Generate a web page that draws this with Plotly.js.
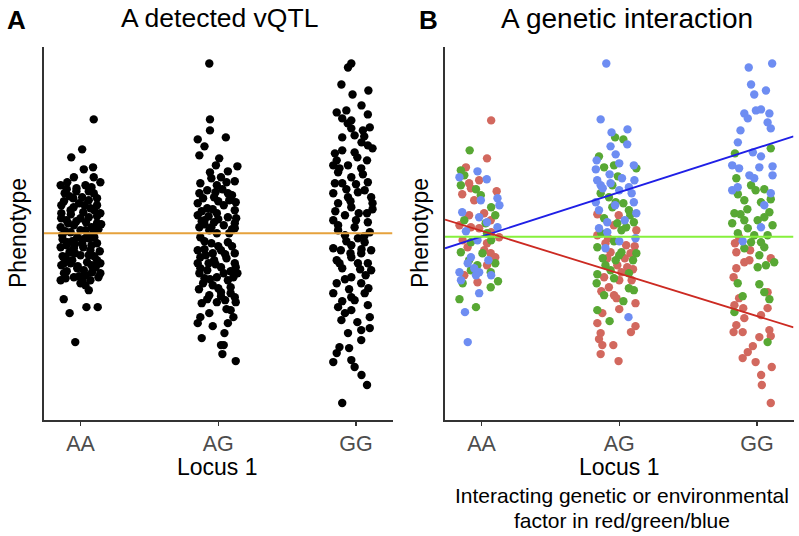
<!DOCTYPE html>
<html>
<head>
<meta charset="utf-8">
<script src="https://cdn.plot.ly/plotly-3.0.1.min.js"></script>
<style>html,body{margin:0;padding:0;background:#fff;}#chart{width:799px;height:536px;}</style>
</head>
<body>
<div id="chart"></div>
<script>
// ---------- data ----------
const categories = ['AA', 'AG', 'GG'];
const xRange = [0.735, 3.265];

// Panel A: [jittered locus position, phenotype]
const aaPoints = [[1.096,11.4],[1.012,8.4],[0.933,7.6],[1.091,6.6],[1.024,6.4],[0.952,5.6],[0.856,4.8],[0.904,5.1],[1.096,5.6],[1.144,5.1],
[0.971,4.5],[1.036,4.8],[0.885,4.0],[1.096,4.0],[1.012,3.6],[0.947,3.5],[1.12,2.8],[0.861,2.8],[0.928,2.3],[1.072,2.5],
[1.144,2.0],[0.861,2.0],[0.899,1.3],[1.0,1.5],[1.06,1.6],[1.12,1.0],[0.952,0.8],[1.036,0.3],[0.856,0.6],[0.928,0.1],
[1.096,0.1],[0.868,-0.2],[0.976,-0.4],[1.06,-0.5],[0.904,-0.9],[1.012,-1.0],[1.12,-1.0],[0.856,-1.4],[0.952,-1.5],[1.072,-1.7],
[0.892,-2.4],[1.0,-2.2],[1.12,-2.7],[1.048,-2.9],[0.928,-3.0],[0.861,-3.2],[0.976,-3.5],[1.144,-3.0],[1.024,-3.7],[1.084,-3.9],
[1.144,-4.0],[0.88,-4.0],[0.952,-4.4],[1.012,-4.7],[1.072,-4.7],[0.856,-4.7],[0.892,-4.5],[1.036,-5.2],[1.06,-5.7],[1.0,-5.0],
[0.878,-6.6],[0.921,-8.0],[1.043,-7.4],[1.125,-7.4],[0.962,-10.9],
[0.88,3.2],[0.99,3.0],[1.06,3.3],[0.91,1.0],[1.04,1.1],[1.13,0.4],[0.87,-0.6],[0.94,-0.8],[1.08,-1.2],[1.0,0.3],
[0.96,-2.0],[1.1,-2.3],[0.87,-2.3],[1.05,-0.2],[0.93,1.9],[1.02,2.1],[1.12,1.7],[0.98,-3.3],[1.08,-3.2],[0.9,-3.8],
[1.13,-4.4],[1.04,-4.2],[0.92,-1.9],[1.14,-1.8],[0.97,4.2],[1.06,4.2],[0.9,4.4],[1.12,3.5],[0.86,1.5],[1.15,0.9],
[0.95,2.6],[1.03,2.8],[0.89,0.2],[1.08,0.6],[0.96,-1.1],[1.1,-0.4],[0.9,-1.2],[1.02,-1.4],[0.88,-3.0],[1.06,-2.2],
[0.94,-2.7],[0.99,-4.3],[1.11,-3.4],[1.02,-0.6],[0.92,3.7],[1.08,4.6],[0.97,1.2],[1.1,2.3]];

const agPoints = [[1.935,17.0],[1.94,11.4],[1.94,10.3],[2.055,9.6],[1.851,9.4],[1.9,8.7],[1.863,7.8],[2.007,7.5],[1.983,6.8],[2.139,6.7],
[2.07,6.2],[1.94,6.1],[2.02,5.6],[2.12,5.2],[1.87,5.0],[1.99,4.8],[1.92,4.3],[1.863,4.0],[2.07,4.0],[1.97,3.6],
[2.127,3.1],[1.851,3.0],[2.04,2.8],[1.92,2.5],[2.12,2.3],[1.99,2.0],[1.851,1.8],[2.07,1.6],[1.9,1.3],[1.97,1.1],
[2.12,1.0],[1.863,0.6],[2.04,0.8],[1.935,0.3],[2.12,0.5],[1.99,0.0],[1.87,-0.4],[2.07,-0.9],[1.95,-1.0],[1.851,-1.7],
[2.02,-1.7],[2.12,-2.0],[1.91,-2.2],[1.97,-2.7],[2.06,-2.5],[1.851,-3.0],[2.127,-3.4],[2.02,-3.4],[1.92,-3.7],[2.139,-4.0],
[1.863,-4.0],[1.99,-4.4],[2.07,-4.7],[1.89,-5.0],[1.96,-5.2],[2.09,-5.4],[2.02,-5.9],[2.12,-6.4],[1.935,-6.2],[1.88,-7.0],
[1.99,-6.9],[2.05,-6.7],[2.127,-6.9],[2.06,-7.6],[2.09,-7.7],[1.935,-8.0],[1.87,-8.4],[1.851,-9.0],[1.96,-9.3],[2.11,-8.4],
[2.07,-9.0],[2.045,-10.0],[1.88,-10.5],[2.02,-11.2],[2.04,-11.2],[2.03,-12.1],[2.127,-12.8],
[1.88,2.2],[2.0,3.2],[2.1,3.8],[1.9,-0.8],[2.08,0.0],[1.96,-2.0],[2.1,-1.3],[1.87,-2.4],[2.04,-4.0],[1.94,-4.6],
[2.11,-4.4],[1.86,-5.6],[2.0,1.4],[1.93,1.7],[2.13,1.5],[1.98,-3.1],[2.03,4.4],[1.89,3.5],[2.12,-3.0],[2.02,-6.3],
[1.92,-6.6],[2.06,5.1],[1.95,5.5],[1.9,0.9],
[1.96,2.4],[2.08,3.3],[1.9,-1.6],[2.05,-2.1],[1.93,-3.0],[2.09,-3.8],[1.87,-3.5],[2.0,-5.5],[1.95,0.6],[2.1,0.4],
[2.0,-1.3],[1.88,1.2],[1.98,4.1],[2.09,-6.0],[1.9,-4.5]];

const ggPoints = [[2.966,17.0],[2.942,16.6],[2.894,14.9],[2.975,13.9],[3.09,14.3],[2.86,12.1],[2.93,12.3],[2.9,11.5],[2.966,11.3],[3.086,11.9],
[3.1,10.6],[2.966,10.5],[3.05,10.3],[3.04,9.1],[3.12,8.5],[2.847,8.0],[2.9,8.3],[2.99,8.1],[3.086,8.8],[3.01,7.6],
[2.835,6.8],[2.942,6.8],[3.038,6.5],[2.87,6.1],[2.966,5.6],[3.086,5.1],[2.847,5.0],[2.9,5.0],[3.014,4.1],[3.063,4.3],
[2.835,4.0],[2.942,3.6],[3.11,3.6],[2.87,3.0],[2.966,2.6],[2.92,1.8],[2.835,1.3],[3.086,1.1],[2.99,0.6],[2.87,0.8],
[3.1,0.1],[2.92,-0.2],[3.014,-0.5],[3.063,-0.9],[2.835,-1.5],[2.966,-1.2],[3.11,-1.7],[2.89,-1.7],[3.038,-2.0],[2.86,-2.7],
[2.966,-2.4],[3.086,-3.0],[3.014,-3.0],[2.9,-3.5],[3.11,-3.7],[2.966,-4.4],[3.038,-5.0],[2.835,-6.0],[2.966,-6.4],[3.063,-6.0],
[2.99,-6.7],[3.086,-7.2],[2.87,-7.4],[2.92,-8.0],[2.966,-7.7],[3.1,-8.4],[2.894,-8.7],[3.038,-9.7],[3.1,-9.5],[2.942,-10.0],
[3.038,-10.7],[2.88,-11.4],[2.95,-11.5],[2.86,-12.0],[2.835,-12.9],[2.966,-12.7],[2.99,-13.4],[3.04,-14.2],[3.08,-15.2],[2.9,-17.0],
[2.9,9.6],[2.99,9.8],[3.08,7.3],[2.86,7.3],[3.0,4.9],[2.93,4.4],[3.12,2.4],[3.02,2.0],[2.85,2.2],[3.06,-0.3],
[2.93,-0.8],[3.0,1.3],[2.88,-3.0],[3.09,-5.5],[2.86,-5.0],[3.01,-8.9],[2.96,-2.0],[3.12,3.0],[2.94,11.0],[3.04,12.8],
[2.88,6.5],[3.05,5.9],[2.96,3.2],[3.08,2.0],[2.87,0.3],[3.04,-1.6],[2.92,-4.6],[3.07,-4.2],[2.95,-5.6],[3.03,-3.6],
[2.9,-6.8],[3.06,9.7]];

const vqtlMean = [0, 0];   // phenotype mean at AA and GG

// Panel B: [jittered locus position, phenotype] by interacting factor level
const redPoints = [[1.07,11.3],[1.04,7.5],[0.887,6.6],[0.983,5.3],[0.91,5.0],[0.923,4.5],[1.11,4.2],[0.86,3.9],[0.947,3.3],[1.019,2.0],
[0.91,1.8],[1.067,1.3],[0.84,0.8],[0.923,0.6],[0.983,0.5],[1.07,0.1],[1.128,-0.4],[0.863,-0.7],[1.04,-1.0],[0.899,-1.4],
[1.02,-1.7],[1.067,-2.0],[1.1,-2.4],[1.04,-3.2],[0.875,-4.2],[0.971,-4.9],
[1.841,1.9],[1.996,1.8],[2.124,0.3],[1.841,-0.2],[1.9,-1.0],[2.112,-1.3],[1.937,-1.9],[2.082,-2.0],[1.913,-2.5],[2.04,-2.5],
[1.986,-3.2],[2.058,-3.4],[2.016,-3.9],[1.89,-4.4],[2.0,-4.7],[2.09,-4.7],[1.925,-5.4],[1.962,-6.2],[1.98,-6.5],[2.118,-7.0],
[2.0,-7.6],[1.877,-8.0],[1.841,-9.0],[2.118,-9.3],[2.085,-9.9],[1.865,-10.0],[1.853,-10.6],[1.877,-11.2],[1.957,-11.2],[1.865,-12.1],
[1.995,-12.8],[1.96,0.8],[2.05,-1.2],[2.1,-3.6],[1.87,-5.8],[1.92,-0.5],
[2.87,-0.4],[2.84,-1.0],[2.85,-1.9],[2.945,-2.7],[3.1,-2.5],[2.908,-2.9],[2.85,-3.5],[2.83,-4.4],[3.077,-5.9],[2.87,-6.5],
[2.836,-7.2],[2.9,-7.5],[3.029,-8.2],[3.077,-7.5],[2.908,-8.5],[2.85,-9.2],[2.83,-9.9],[2.896,-9.9],[3.09,-9.7],[3.017,-10.4],
[3.1,-10.3],[2.97,-11.3],[2.933,-11.9],[2.896,-12.5],[2.99,-12.9],[3.107,-13.4],[3.03,-14.2],[3.035,-15.2],[3.1,-17.0],[2.95,-1.7]];

const greenPoints = [[0.914,8.3],[0.85,6.3],[0.875,5.8],[0.85,4.8],[0.96,4.4],[0.995,3.8],[1.07,2.6],[1.1,1.8],[0.875,1.3],[1.03,1.0],
[1.04,0.0],[0.923,-0.9],[1.07,-0.7],[0.85,-1.9],[1.007,-2.0],[0.91,-2.7],[1.1,-3.0],[0.97,-3.2],[0.923,-3.7],[1.067,-3.9],
[1.12,-4.8],[0.863,-5.0],[1.067,-5.4],[0.84,-6.6],[0.96,-7.4],
[1.97,9.6],[2.03,9.4],[1.853,7.7],[1.89,6.6],[2.124,6.5],[1.962,6.8],[1.99,5.7],[1.865,4.0],[1.925,3.6],[1.974,3.1],
[2.03,3.0],[1.95,2.6],[2.07,2.3],[1.89,1.5],[1.986,1.0],[2.106,1.1],[2.016,0.3],[1.962,-0.8],[1.841,-1.4],[2.016,-1.9],
[2.124,-2.0],[1.974,-2.7],[2.1,-2.7],[1.9,-3.2],[1.937,-3.7],[1.841,-4.1],[2.07,-4.0],[1.962,-4.5],[1.836,-5.0],[2.07,-5.5],
[2.106,-5.7],[1.89,-6.2],[2.03,-6.8],[1.841,-7.7],[1.93,-8.8],[1.95,4.8],[2.08,1.8],[1.87,0.0],[1.88,-2.5],[2.0,-2.2],[2.05,0.6],
[3.1,8.5],[2.84,8.0],[2.85,5.5],[2.957,4.8],[2.861,3.9],[2.99,4.3],[3.053,4.4],[2.908,3.3],[3.029,3.1],[2.836,2.0],
[3.09,2.1],[3.053,1.6],[2.908,1.3],[2.82,1.0],[3.005,1.3],[3.113,0.8],[2.933,0.5],[2.861,0.0],[3.077,-0.2],[2.957,-0.9],
[3.029,-0.9],[2.908,-1.5],[3.053,-1.4],[3.017,-2.2],[3.125,-2.9],[3.005,-3.4],[3.065,-3.2],[2.86,-5.0],[3.017,-5.1],[3.053,-5.9],
[3.09,-6.6],[2.896,-6.3],[2.836,-7.9],[3.077,-10.9],[2.93,2.4],[3.1,3.4],[2.98,-0.2],[2.88,1.9]];

const bluePoints = [[0.971,6.2],[1.038,5.4],[0.84,5.6],[1.116,3.5],[0.995,3.3],[1.13,2.8],[0.86,2.1],[0.983,1.6],[1.04,1.1],[1.116,0.6],
[0.887,0.2],[0.971,-0.7],[0.923,-2.4],[1.05,-2.7],[0.9,-3.0],[0.947,-3.5],[0.983,-3.9],[0.84,-3.9],[0.96,-4.2],[1.07,-4.2],
[0.851,-4.7],[0.983,-6.0],[0.88,-7.9],[0.9,-10.9],
[1.906,17.0],[1.865,11.4],[1.944,10.1],[2.06,10.4],[1.937,8.7],[2.058,8.9],[1.974,7.9],[1.836,7.3],[2.0,7.0],[2.106,6.8],
[1.83,6.4],[1.93,5.9],[1.84,5.3],[2.11,5.3],[1.937,5.0],[1.865,4.8],[2.07,4.6],[2.0,4.3],[2.09,4.0],[1.83,3.1],
[2.106,3.1],[1.853,2.3],[2.124,2.0],[1.913,1.1],[2.04,1.3],[1.913,0.1],[1.853,0.5],[2.118,-0.5],[2.0,-0.8],[1.9,-1.5],
[2.067,-8.4],[1.88,4.5],[2.02,5.5],[1.97,2.8],
[2.94,16.6],[3.11,17.0],[2.957,14.9],[3.065,14.3],[2.98,13.9],[2.992,12.3],[3.029,12.4],[2.908,12.0],[3.09,12.0],[2.933,11.5],
[3.077,11.1],[3.1,10.5],[2.88,10.3],[2.861,9.1],[2.97,8.1],[3.029,7.7],[2.82,6.8],[2.87,6.5],[3.017,6.6],[3.113,6.7],
[2.945,5.8],[3.113,5.8],[2.98,5.5],[2.82,4.3],[3.1,4.0],[3.053,2.8],[3.029,0.6],[2.896,-0.8],[2.86,4.6]];

// fitted lines: phenotype at AA (x=1) and GG (x=3)
const redFit = [0.24, -8.29];
const greenFit = [-0.35, -0.35];
const blueFit = [-0.33, 8.53];

// ---------- helpers ----------
const FONT = 'Liberation Sans, Arial, Helvetica, sans-serif';
function xs(p) { return p.map(d => d[0]); }
function ys(p) { return p.map(d => d[1]); }
function fitLine(fit) {
  const slope = (fit[1] - fit[0]) / 2;
  return xRange.map(x => fit[0] + slope * (x - 1));
}
function pts(p, color, xa, ya) {
  return {type: 'scatter', mode: 'markers', x: xs(p), y: ys(p), xaxis: xa, yaxis: ya,
    marker: {size: 8.4, color: color, line: {width: 0}}, hoverinfo: 'skip', showlegend: false};
}
function line(fit, color, xa, ya) {
  return {type: 'scatter', mode: 'lines', x: xRange, y: fitLine(fit), xaxis: xa, yaxis: ya,
    line: {color: color, width: 1.8}, hoverinfo: 'skip', showlegend: false};
}

const data = [
  pts(aaPoints, '#000000', 'x', 'y'),
  pts(agPoints, '#000000', 'x', 'y'),
  pts(ggPoints, '#000000', 'x', 'y'),
  line(vqtlMean, '#E6A23C', 'x', 'y'),
  pts(redPoints, '#D2685E', 'x2', 'y2'),
  pts(greenPoints, '#58A834', 'x2', 'y2'),
  pts(bluePoints, '#6E8DF2', 'x2', 'y2'),
  line(blueFit, '#1F1FE6', 'x2', 'y2'),
  line(greenFit, '#86F03C', 'x2', 'y2'),
  line(redFit, '#CC2A22', 'x2', 'y2')
];

const W = 799, H = 536;
const px = v => v / W, py = v => 1 - v / H;

const xCommon = {
  range: xRange, tickvals: [1, 2, 3], ticktext: categories,
  ticks: 'outside', ticklen: 4, tickwidth: 1.3, tickcolor: '#333333',
  showline: true, linecolor: '#333333', linewidth: 1.6, mirror: false,
  showgrid: false, zeroline: false, fixedrange: true,
  tickfont: {family: FONT, size: 21.5, color: '#4D4D4D'}
};
const yCommon = {
  range: [-18.7, 18.7], domain: [py(420), py(46.5)],
  showticklabels: false, ticks: '', showline: true, linecolor: '#333333', linewidth: 1.6,
  showgrid: false, zeroline: false, fixedrange: true
};

function ann(text, x, y, size, opts) {
  return Object.assign({text: text, x: px(x), y: py(y), xref: 'paper', yref: 'paper',
    xanchor: 'center', yanchor: 'middle', showarrow: false,
    font: {family: FONT, size: size, color: '#000000'}}, opts || {});
}

const layout = {
  width: W, height: H,
  margin: {l: 0, r: 0, t: 0, b: 0},
  paper_bgcolor: '#ffffff', plot_bgcolor: '#ffffff',
  showlegend: false,
  xaxis: Object.assign({}, xCommon, {domain: [px(44), px(392.5)], anchor: 'y'}),
  yaxis: Object.assign({}, yCommon, {anchor: 'x'}),
  xaxis2: Object.assign({}, xCommon, {domain: [px(445), px(793.5)], anchor: 'y2'}),
  yaxis2: Object.assign({}, yCommon, {anchor: 'x2'}),
  annotations: [
    ann('<b>A</b>', 16, 20, 26),
    ann('A detected vQTL', 219, 18, 26.5),
    ann('<b>B</b>', 428, 20, 26),
    ann('A genetic interaction', 627, 18, 28),
    ann('Phenotype', 18, 233, 23, {textangle: -90}),
    ann('Phenotype', 420, 233, 23, {textangle: -90}),
    ann('Locus 1', 218, 467, 23),
    ann('Locus 1', 619, 467, 23),
    ann('Interacting genetic or environmental', 622, 495, 21),
    ann('factor in red/green/blue', 622, 520, 21)
  ]
};

Plotly.newPlot('chart', data, layout, {displayModeBar: false, staticPlot: true});
</script>
</body>
</html>
